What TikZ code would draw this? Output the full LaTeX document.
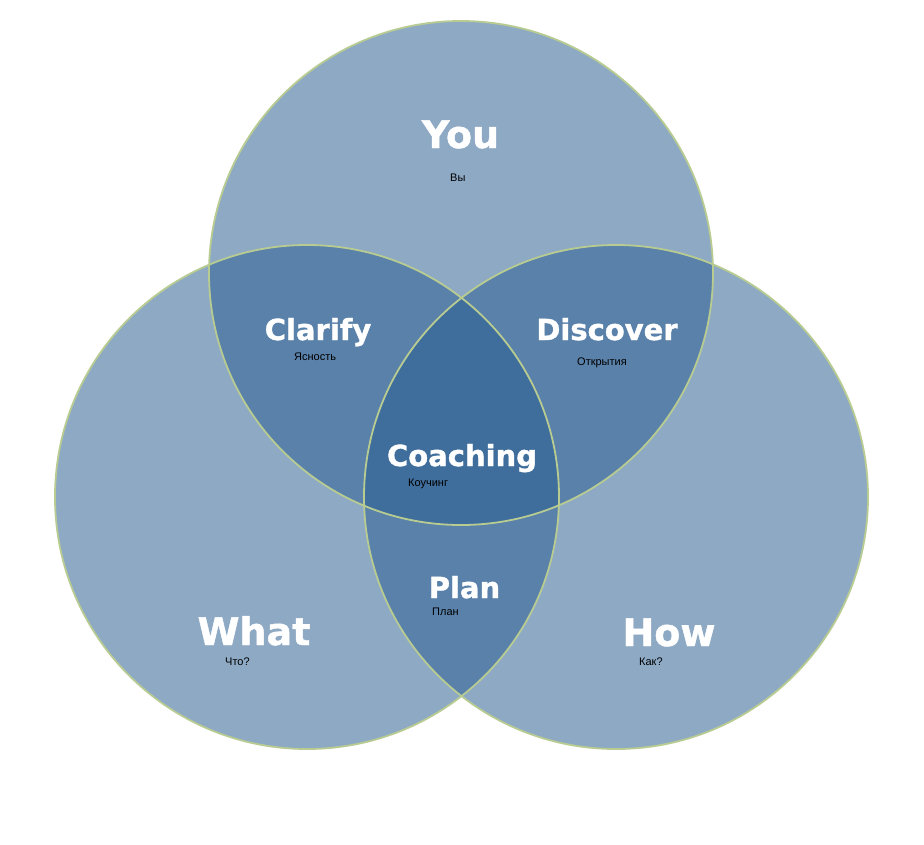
\documentclass[tikz,border=0pt]{standalone}
\usepackage{fontspec}
\newfontfamily\headfont[BoldFeatures={FakeBold=1.2}]{DejaVu Sans}
\newfontfamily\notefont{Liberation Sans}
\definecolor{vennblue}{RGB}{42,94,145}
\definecolor{venngreen}{RGB}{184,204,146}

\begin{document}
\begin{tikzpicture}[x=1pt, y=-1pt,
  circ/.style={fill=vennblue, fill opacity=0.53},
  rim/.style={draw=venngreen, line width=1.8pt},
  big/.style={font=\headfont\bfseries\fontsize{38}{40}\selectfont,
    text=white, anchor=base, inner sep=0pt},
  mid/.style={big, font=\headfont\bfseries\fontsize{29}{31}\selectfont},
  note/.style={font=\notefont\fontsize{11}{13}\selectfont,
    text=black, anchor=base west, inner sep=0pt}]

  \newcommand\R{252pt}

  \fill[white] (0,0) rectangle (924,844);
  \useasboundingbox (0,0) rectangle (924,844);

  \coordinate (you)  at (461,273);
  \coordinate (what) at (307,497);
  \coordinate (how)  at (616,497);

  % the three sets
  \fill[circ] (you)  circle[radius=\R];
  \fill[circ] (what) circle[radius=\R];
  \fill[circ] (how)  circle[radius=\R];

  \draw[rim] (you)  circle[radius=\R];
  \draw[rim] (what) circle[radius=\R];
  \draw[rim] (how)  circle[radius=\R];

  % titles
  \node[big] (you-t)      at (460.5,148) {You};
  \node[big] (what-t)     at (254,645)   {What};
  \node[big] (how-t)      at (669,646)   {How};
  \node[mid] (clarify-t)  at (318,340)   {Clarify};
  \node[mid] (discover-t) at (607,340)   {Discover};
  \node[mid] (coaching-t) at (462,466)   {Coaching};
  \node[mid] (plan-t)     at (464.5,598) {Plan};

  % translations
  \node[note] (you-n)      at (450,181) {Вы};
  \node[note] (clarify-n)  at (294,360) {Ясность};
  \node[note] (discover-n) at (577,365) {Открытия};
  \node[note] (coaching-n) at (408,486) {Коучинг};
  \node[note] (plan-n)     at (432,615) {План};
  \node[note] (what-n)     at (225,665) {Что?};
  \node[note] (how-n)      at (639,665) {Как?};

\end{tikzpicture}
\end{document}
